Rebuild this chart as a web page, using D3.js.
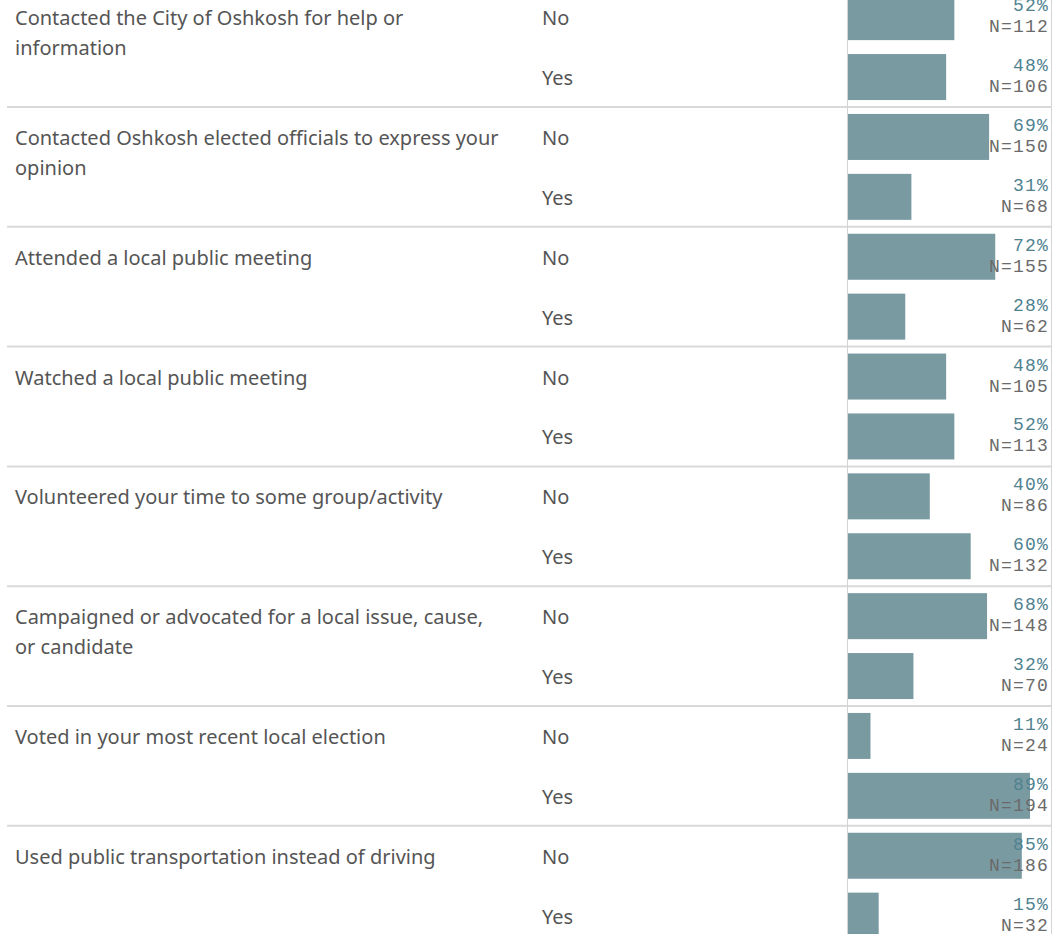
<!DOCTYPE html>
<html>
<head>
<meta charset="utf-8">
<script src="https://cdn.jsdelivr.net/npm/d3@7"></script>
<style>
  html, body { margin: 0; padding: 0; background: #fff; overflow: hidden; }
</style>
</head>
<body>
<svg id="chart" width="1063" height="934"></svg>
<script>
// Civic engagement survey: share of respondents answering No / Yes per activity
const activities = [
  "Contacted the City of Oshkosh for help or information",
  "Contacted Oshkosh elected officials to express your opinion",
  "Attended a local public meeting",
  "Watched a local public meeting",
  "Volunteered your time to some group/activity",
  "Campaigned or advocated for a local issue, cause, or candidate",
  "Voted in your most recent local election",
  "Used public transportation instead of driving"
];
const responses = ["No", "Yes"];
const pctNo    = [52, 69, 72, 48, 40, 68, 11, 85];
const pctYes   = [48, 31, 28, 52, 60, 32, 89, 15];
const countNo  = [112, 150, 155, 105, 86, 148, 24, 186];
const countYes = [106, 68, 62, 113, 132, 70, 194, 32];

const rows = activities.flatMap((a, i) => [
  { activity: a, response: "No",  pct: pctNo[i],  n: countNo[i] },
  { activity: a, response: "Yes", pct: pctYes[i], n: countYes[i] }
]);

const svg = d3.select("#chart");
const groupH = 119.8;
const top0 = -12.8;

const yGroup = d3.scaleBand()
  .domain(activities)
  .range([top0, top0 + groupH * activities.length])
  .padding(0);

const yResp = d3.scaleBand()
  .domain(responses)
  .range([0, groupH])
  .paddingInner(0.232)
  .paddingOuter(0.116);

const x = d3.scaleLinear().domain([0, 100]).range([848, 848 + 204.5]);

const rowCenter = d => yGroup(d.activity) + yResp(d.response) + yResp.bandwidth() / 2;

// group separators
svg.append("g")
  .selectAll("line")
  .data(activities)
  .join("line")
  .attr("x1", 7).attr("x2", 1052)
  .attr("y1", d => yGroup(d) + groupH)
  .attr("y2", d => yGroup(d) + groupH)
  .attr("stroke", "#d9d9d9")
  .attr("stroke-width", 2);

// bar area borders
svg.append("line")
  .attr("x1", 847.5).attr("x2", 847.5).attr("y1", 0).attr("y2", 934)
  .attr("stroke", "#d4d4d4").attr("stroke-width", 1);
svg.append("line")
  .attr("x1", 1051.5).attr("x2", 1051.5).attr("y1", 0).attr("y2", 934)
  .attr("stroke", "#d4d4d4").attr("stroke-width", 1);

// bars
svg.append("g")
  .selectAll("rect")
  .data(rows)
  .join("rect")
  .attr("x", x(0))
  .attr("y", d => yGroup(d.activity) + yResp(d.response))
  .attr("width", d => x(d.pct) - x(0))
  .attr("height", yResp.bandwidth())
  .attr("fill", "#7a9aa2");

// value labels
const labels = svg.append("g")
  .attr("font-family", "'Liberation Mono', 'Courier New', monospace")
  .attr("font-size", 18)
  .attr("letter-spacing", 1.2)
  .attr("text-anchor", "end");

labels.selectAll("text.pct")
  .data(rows)
  .join("text")
  .attr("class", "pct")
  .attr("x", 1049)
  .attr("y", d => rowCenter(d) - 6)
  .attr("fill", "#4f8290")
  .text(d => d.pct + "%");

labels.selectAll("text.n")
  .data(rows)
  .join("text")
  .attr("class", "n")
  .attr("x", 1049)
  .attr("y", d => rowCenter(d) + 15)
  .attr("fill", "#6a6a6a")
  .text(d => "N=" + d.n);

// response labels
svg.append("g")
  .selectAll("text")
  .data(rows)
  .join("text")
  .attr("x", 542)
  .attr("y", d => rowCenter(d) + 8)
  .attr("font-family", "'Noto Sans', sans-serif")
  .attr("font-size", 20)
  .attr("fill", "#555")
  .text(d => d.response);

// activity labels, wrapped to the label column
const wrapWidth = 488;
const actText = svg.append("g")
  .selectAll("text")
  .data(activities)
  .join("text")
  .attr("x", 15)
  .attr("y", d => yGroup(d) + yResp("No") + yResp.bandwidth() / 2 + 8)
  .attr("font-family", "'Noto Sans', sans-serif")
  .attr("font-size", 20)
  .attr("fill", "#555");

actText.each(function(d) {
  const text = d3.select(this);
  const words = d.split(" ");
  let line = [];
  let tspan = text.append("tspan").attr("x", 15).attr("dy", 0);
  for (const w of words) {
    line.push(w);
    tspan.text(line.join(" "));
    if (tspan.node().getComputedTextLength() > wrapWidth && line.length > 1) {
      line.pop();
      tspan.text(line.join(" "));
      line = [w];
      tspan = text.append("tspan").attr("x", 15).attr("dy", 30).text(w);
    }
  }
});
</script>
</body>
</html>
